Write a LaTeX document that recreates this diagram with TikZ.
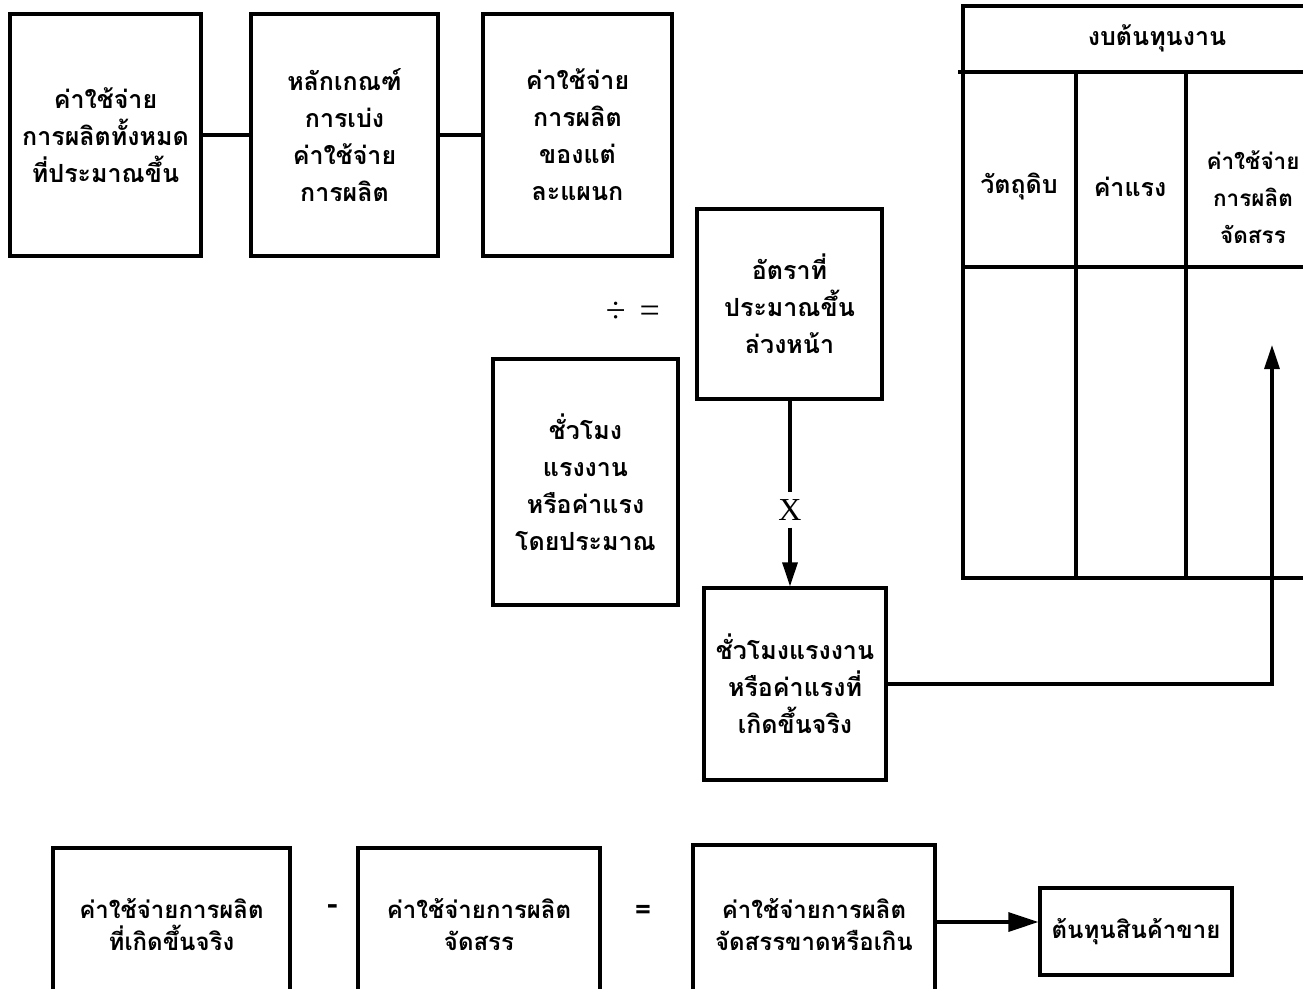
\documentclass[tikz,border=0pt]{standalone}
\usepackage{fontspec}
\newfontfamily\thaifont[Script=Thai]{Loma}
\newfontfamily\serifx{Liberation Serif}
\newcommand\thaitext{\thaifont\bfseries\fontsize{25}{37}\selectfont}
\newcommand\thaitextsm{\thaifont\bfseries\fontsize{24}{32}\selectfont}
\newcommand\thaitextcol{\thaifont\bfseries\fontsize{22.5}{37}\selectfont}
\usetikzlibrary{arrows.meta}
\begin{document}
\begin{tikzpicture}[x=1pt,y=-1pt,
  box/.style={draw, line width=3.2pt, inner sep=0pt, align=center, font=\thaitext},
  lowbox/.style={box, font=\thaitextsm},
  label/.style={inner sep=0pt, align=center, font=\thaitext},
  conn/.style={line width=3.2pt},
  tip/.style={-{Triangle[length=24pt,width=15pt]}},
  bigtip/.style={-{Triangle[length=30pt,width=19pt]}},
  grid/.style={line width=3.2pt}]
\useasboundingbox (0,0) rectangle (1303,988);
\fill[white] (0,0) rectangle (1303,988);
\clip (0,0) rectangle (1303,988);

% top row: total overhead -> allocation basis -> departmental overhead
\node[box, minimum width=191pt, minimum height=242pt] (total) at (105.5,135)
  {ค่าใช้จ่าย\\การผลิตทั้งหมด\\ที่ประมาณขึ้น};
\node[box, minimum width=187pt, minimum height=242pt] (basis) at (344.5,135)
  {หลักเกณฑ์\\การเบ่ง\\ค่าใช้จ่าย\\การผลิต};
\node[box, minimum width=189pt, minimum height=242pt] (dept) at (577.5,135)
  {ค่าใช้จ่าย\\การผลิต\\ของแต่\\ละแผนก};
\draw[conn] (total.east) -- (basis.west);
\draw[conn] (basis.east) -- (dept.west);

% predetermined rate
\node[box, minimum width=185pt, minimum height=190pt] (rate) at (789.5,304)
  {อัตราที่\\ประมาณขึ้น\\ล่วงหน้า};
\node[inner sep=0pt, font=\serifx\fontsize{36}{40}\selectfont] (ops) at (633,312) {÷\hspace{14pt}=};
\node[box, minimum width=185pt, minimum height=246pt] (esthours) at (585.5,482)
  {ชั่วโมง\\แรงงาน\\หรือค่าแรง\\โดยประมาณ};

% actual hours
\node[box, minimum width=182pt, minimum height=192pt] (acthours) at (795,684)
  {ชั่วโมงแรงงาน\\หรือค่าแรงที่\\เกิดขึ้นจริง};
\node[inner sep=0pt, font=\serifx\fontsize{32}{36}\selectfont] (times) at (790,510) {X};
\draw[conn] (rate.south -| times) -- ([yshift=7pt]times.north);
\draw[conn, tip] ([yshift=-7pt]times.south) -- (acthours.north -| times);

% job cost sheet
\draw[grid] (963,6) rectangle (1340,578);
\draw[grid] (958,72) -- (1340,72);
\draw[grid] (963,267) -- (1340,267);
\draw[grid] (1076,72) -- (1076,578);
\draw[grid] (1186,72) -- (1186,578);
\node[label] (sheet) at (1157,38) {งบต้นทุนงาน};
\node[label] (matl) at (1019,187) {วัตถุดิบ};
\node[label] (labor) at (1130,187) {ค่าแรง};
\node[label, font=\thaitextcol] (applied) at (1253,197) {ค่าใช้จ่าย\\การผลิต\\จัดสรร};
\coordinate (cellin) at (1272,345);
\draw[conn, tip] (acthours.east) -| (cellin);

% bottom row: actual - applied = under/over applied -> cost of goods sold
\node[lowbox, minimum width=237pt, minimum height=154pt] (actual) at (171.5,925)
  {ค่าใช้จ่ายการผลิต\\ที่เกิดขึ้นจริง};
\node[label, font=\thaifont\bfseries\fontsize{32}{36}\selectfont] (minus) at (333,910) {-};
\node[lowbox, minimum width=242pt, minimum height=154pt] (appl) at (479,925)
  {ค่าใช้จ่ายการผลิต\\จัดสรร};
\node[label, font=\thaifont\bfseries\fontsize{28}{36}\selectfont] (equals) at (643,912) {=};
\node[lowbox, minimum width=242pt, minimum height=160pt] (diff) at (814,925)
  {ค่าใช้จ่ายการผลิต\\จัดสรรขาดหรือเกิน};
\node[lowbox, minimum width=192pt, minimum height=87pt] (cogs) at (1136,931.5)
  {ต้นทุนสินค้าขาย};
\draw[conn, bigtip] (diff.east |- 0,922) -- (cogs.west |- 0,922);
\end{tikzpicture}
\end{document}
